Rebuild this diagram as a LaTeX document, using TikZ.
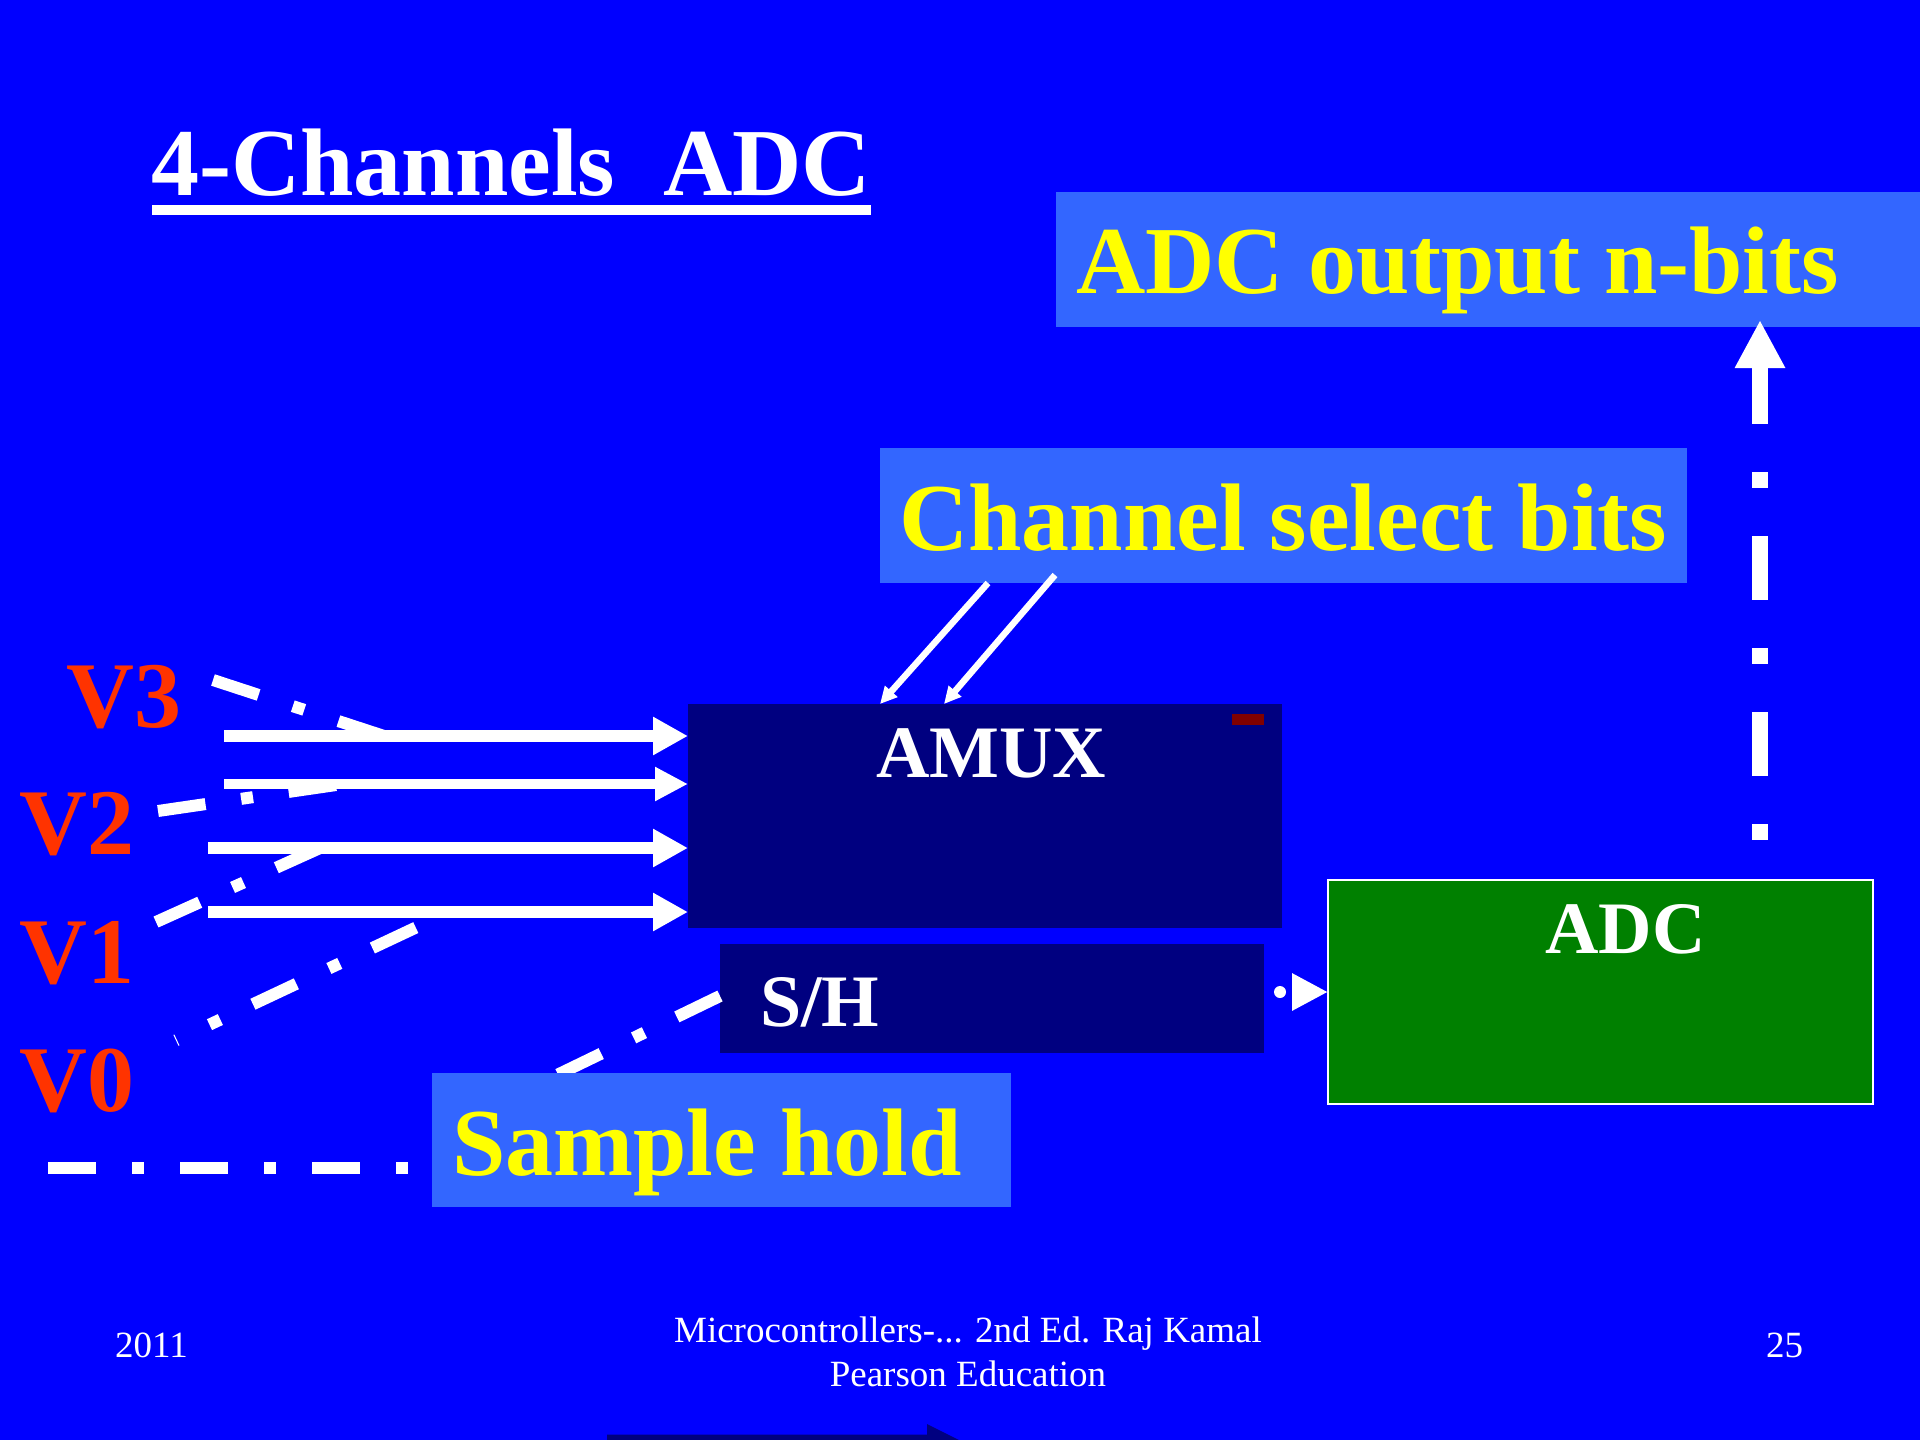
\documentclass[tikz,border=0pt]{standalone}
\usepackage{fontspec}
\setmainfont{Liberation Serif}
\usetikzlibrary{arrows.meta,calc}
\definecolor{bgblue}{HTML}{0000FF}
\definecolor{lightb}{HTML}{3366FF}
\definecolor{yel}{HTML}{FFFF00}
\definecolor{navyc}{HTML}{000080}
\definecolor{greenc}{HTML}{008000}
\definecolor{darkredc}{HTML}{800000}
\definecolor{vred}{HTML}{FF3300}
\begin{document}
\begin{tikzpicture}[x=1pt,y=-1pt,
  box/.style={inner sep=0pt, outer sep=0pt, anchor=north west},
  lbl/.style={inner sep=0pt, anchor=base west, text=yel, font=\fontsize{96}{110}\selectfont\bfseries},
  wl/.style={inner sep=0pt, anchor=base west, text=white, font=\fontsize{74}{88}\selectfont\bfseries},
  vl/.style={inner sep=0pt, anchor=base west, text=vred, font=\fontsize{94}{110}\selectfont\bfseries},
  foot/.style={inner sep=0pt, text=white, font=\fontsize{37}{44}\selectfont},
  dd/.style={draw=white, line width=12pt, line cap=butt, dash pattern=on 48pt off 36pt on 12pt off 36pt},
  harrow/.style={draw=white, line width=11.5pt, -{Triangle[width=36pt,length=35pt]}},
  carrow/.style={draw=white, line width=6.5pt, -{Triangle[width=16pt,length=17pt]}}
]
\fill[bgblue] (0,0) rectangle (1920,1440);
\useasboundingbox (0,0) rectangle (1920,1440);

% bottom partial navy arrow
\begin{scope}
\clip (0,0) rectangle (1920,1440);
\fill[navyc] (607,1434.5) -- (927,1434.5) -- (927,1424) -- (975,1448) -- (927,1472) -- (927,1461) -- (607,1461) -- cycle;
\end{scope}

% title
\node[inner sep=0pt, anchor=base west, text=white, font=\fontsize{96}{110}\selectfont\bfseries] (title) at (151,195) {4-Channels\ \ ADC};
\fill[white] (152,205) rectangle (871,215);

% voltage labels
\node[vl] (v3) at (66,727.5) {V3};
\node[vl] (v2) at (19,854) {V2};
\node[vl] (v1) at (19,983) {V1};
\node[vl] (v0) at (19,1111) {V0};

% dash-dot input lines
\coordinate (d3a) at (213,680);   \coordinate (d3b) at (384,736);
\coordinate (d2a) at (158,811);   \coordinate (d2b) at (336,785);
\coordinate (d1a) at (156,922);   \coordinate (d1b) at (320,848);
\coordinate (d0a) at (176,1040.4); \coordinate (d0b) at (416,927.5);
\draw[dd] (d3a) -- (d3b);
\draw[dd] (d2a) -- (d2b);
\draw[dd] (d1a) -- (d1b);
\draw[dd, dash phase=47pt] (d0a) -- (d0b);

% boxes
\node[box, fill=lightb, minimum width=864pt, minimum height=135pt] (out) at (1056,192) {};
\node[box, fill=lightb, minimum width=807pt, minimum height=135pt] (chan) at (880,448) {};
\node[box, fill=navyc, minimum width=593.5pt, minimum height=224pt] (amux) at (688,704) {};
\node[box, fill=navyc, minimum width=544pt, minimum height=109pt] (sh) at (720,944) {};
\node[box, fill=greenc, draw=white, line width=2pt, minimum width=545pt, minimum height=224.5pt] (adc) at (1328,879.5) {};

% sample-hold lines (under sample box)
\coordinate (sl0) at (48,1168);
\coordinate (sdiag) at (557,1075);
\draw[dd] (sl0) -- (sl0 -| 432,0);
\draw[dd] (720,996) -- (sdiag);
\node[box, fill=lightb, minimum width=579pt, minimum height=134pt] (samp) at (432,1073) {};

\fill[darkredc] (1232,714) rectangle (1264,725);

% texts
\node[lbl] (outt) at (1076,293) {ADC output n-bits};
\node[lbl] (chant) at (899,550) {Channel select bits};
\node[lbl] (sampt) at (452,1175) {Sample hold};
\node[wl] (amuxt) at (876,777) {AMUX};
\node[wl] (sht) at (760,1026) {S/H};
\node[wl] (adct) at (1545,953) {ADC};

% horizontal input arrows
\coordinate (h1) at (224,736);
\coordinate (h2) at (224,784);
\coordinate (h3) at (208,848);
\coordinate (h4) at (208,912);
\draw[harrow] (h1) -- (amux.west |- h1);
\draw[harrow, -{Triangle[width=32pt,length=33pt]}, line width=10.7pt] (h2) -- (amux.west |- h2);
\draw[harrow] (h3) -- (amux.west |- h3);
\draw[harrow] (h4) -- (amux.west |- h4);

% channel select arrows
\coordinate (cs1) at (988,583);
\coordinate (cs2) at (1055,575);
\draw[carrow] (cs1) -- ($(amux.north west)+(192,0)$);
\draw[carrow] (cs2) -- ($(amux.north west)+(256,0)$);

% S/H to ADC
\coordinate (shdot) at (1264,992);
\draw[white, line width=12pt, line cap=round, dash pattern=on 0pt off 40pt, dash phase=24pt, -{Triangle[width=35pt,length=36pt]}] (shdot) -- (shdot -| adc.west);

% ADC output arrow
\coordinate (oax) at (1760,0);
\draw[white, line width=15.6pt, line cap=butt, dash pattern=on 16pt off 48pt on 64pt off 48pt, dash phase=136pt, -{Triangle[width=47pt,length=48pt]}] (adc.north -| oax) -- ($(out.south -| oax)+(0,-7)$);

% footer
\node[foot, anchor=base west] (year) at (115,1357) {2011};
\node[foot, anchor=base west] (page) at (1766,1357) {25};
\node[foot, anchor=base, align=center] (book) at (968,1386) {Microcontrollers-... 2nd Ed. Raj Kamal\\Pearson Education};
\end{tikzpicture}
\end{document}
